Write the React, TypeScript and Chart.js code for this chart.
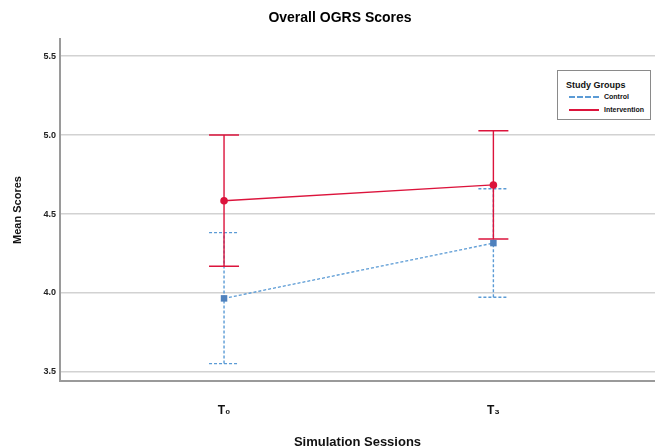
import React, { useEffect, useRef } from "react";
import { Chart, registerables } from "chart.js";

Chart.register(...registerables);

const sessions = ["T\u2080", "T\u2083"];
const sessionPositions = [0, 1];
const yTicks = [3.5, 4.0, 4.5, 5.0, 5.5];

const controlMeans = [3.966, 4.316];
const controlLower = [3.553, 3.973];
const controlUpper = [4.382, 4.66];

const interventionMeans = [4.584, 4.684];
const interventionLower = [4.169, 4.342];
const interventionUpper = [5.0, 5.027];

const RED = "#dc143c";
const BLUE_LINE = "#5b9bd5";
const BLUE_MARK = "#4f81bd";

const errorBarPlugin = {
  id: "errorBars",
  beforeDatasetsDraw(chart: any) {
    const { ctx, scales } = chart;
    const xs = scales.x;
    const ys = scales.y;
    chart.data.datasets.forEach((ds: any) => {
      const lows: number[] = ds.errLow;
      const highs: number[] = ds.errHigh;
      if (!lows) return;
      ctx.save();
      ctx.strokeStyle = ds.borderColor;
      ctx.lineWidth = 1.4;
      ctx.setLineDash(ds.borderDash || []);
      ds.data.forEach((p: any, i: number) => {
        const x = xs.getPixelForValue(p.x);
        const yl = ys.getPixelForValue(lows[i]);
        const yh = ys.getPixelForValue(highs[i]);
        ctx.beginPath();
        ctx.moveTo(x, yl);
        ctx.lineTo(x, yh);
        ctx.moveTo(x - 15, yl);
        ctx.lineTo(x + 15, yl);
        ctx.moveTo(x - 15, yh);
        ctx.lineTo(x + 15, yh);
        ctx.stroke();
      });
      ctx.restore();
    });
  },
};

const titlePlugin = {
  id: "customTitle",
  afterDraw(chart: any) {
    const ctx = chart.ctx;
    ctx.save();
    ctx.font = "bold 14px 'Liberation Sans', Arial, sans-serif";
    ctx.fillStyle = "#000";
    ctx.textAlign = "center";
    ctx.textBaseline = "middle";
    ctx.fillText("Overall OGRS Scores", 340, 18);
    ctx.restore();
  },
};

export default function App() {
  const canvasRef = useRef<HTMLCanvasElement | null>(null);

  useEffect(() => {
    if (!canvasRef.current) return;
    const chart = new Chart(canvasRef.current, {
      type: "line",
      data: {
        datasets: [
          {
            label: "Control",
            data: sessionPositions.map((x, i) => ({ x, y: controlMeans[i] })),
            borderColor: BLUE_LINE,
            backgroundColor: BLUE_MARK,
            pointBackgroundColor: BLUE_MARK,
            pointBorderColor: BLUE_MARK,
            borderWidth: 1.3,
            borderDash: [3, 2],
            pointStyle: "rect",
            pointRadius: 4.6,
            pointBorderWidth: 0,
            errLow: controlLower,
            errHigh: controlUpper,
          } as any,
          {
            label: "Intervention",
            data: sessionPositions.map((x, i) => ({ x, y: interventionMeans[i] })),
            borderColor: RED,
            backgroundColor: RED,
            pointBackgroundColor: RED,
            pointBorderColor: RED,
            borderWidth: 1.3,
            pointStyle: "circle",
            pointRadius: 3.8,
            pointBorderWidth: 0,
            errLow: interventionLower,
            errHigh: interventionUpper,
          } as any,
        ],
      },
      options: {
        responsive: false,
        animation: false,
        layout: { autoPadding: false, padding: { top: 39, left: 0, right: 0, bottom: 0 } },
        plugins: {
          legend: { display: false },
          title: { display: false },
          tooltip: { enabled: false },
        },
        scales: {
          x: {
            type: "linear",
            min: -0.609,
            max: 1.6,
            afterBuildTicks: (scale: any) => {
              scale.ticks = sessionPositions.map((v) => ({ value: v }));
            },
            afterFit: (scale: any) => {
              scale.height = 65;
            },
            grid: { display: false, drawTicks: false },
            border: { color: "#9a9a9a", width: 2 },
            ticks: {
              padding: 22,
              color: "#111",
              font: { family: "'Liberation Sans', Arial, sans-serif", size: 12, weight: "bold" },
              callback: (v: any) => {
                const idx = sessionPositions.indexOf(Number(v));
                return idx >= 0 ? sessions[idx] : "";
              },
            },
            title: {
              display: true,
              text: "Simulation Sessions",
              color: "#111",
              padding: { top: 0, bottom: -4 },
              font: { family: "'Liberation Sans', Arial, sans-serif", size: 13, weight: "bold" },
            },
          },
          y: {
            min: 3.443,
            max: 5.608,
            afterBuildTicks: (scale: any) => {
              scale.ticks = yTicks.map((v) => ({ value: v }));
            },
            afterFit: (scale: any) => {
              scale.width = 60;
            },
            grid: { color: "#d2d2d2", lineWidth: 1.5, drawTicks: false },
            border: { color: "#9a9a9a", width: 2 },
            ticks: {
              padding: 4,
              color: "#222",
              font: { family: "'Liberation Sans', Arial, sans-serif", size: 9, weight: "bold" },
              callback: (v: any) => Number(v).toFixed(1),
            },
            title: {
              display: true,
              text: "Mean Scores",
              color: "#111",
              padding: { top: 11, bottom: 0 },
              font: { family: "'Liberation Sans', Arial, sans-serif", size: 11, weight: "bold" },
            },
          },
        },
      } as any,
      plugins: [errorBarPlugin, titlePlugin],
    });
    return () => chart.destroy();
  }, []);

  const font = "'Liberation Sans', Arial, sans-serif";

  return (
    <div style={{ position: "absolute", left: 0, top: 0, width: 655, height: 446, background: "#fff" }}>
      <canvas ref={canvasRef} width={655} height={446} style={{ display: "block" }} />
      <div
        style={{
          position: "absolute",
          left: 557,
          top: 70,
          width: 94,
          height: 50,
          border: "1px solid #8a8a8a",
          background: "#fff",
          boxSizing: "border-box",
          fontFamily: font,
          color: "#111",
        }}
      >
        <div style={{ position: "absolute", left: 8, top: 9, fontSize: 9, fontWeight: "bold", lineHeight: "10px", whiteSpace: "nowrap" }}>
          Study Groups
        </div>
        <div style={{ position: "absolute", left: 11, top: 25, width: 30, borderTop: `2px dashed ${BLUE_LINE}` }} />
        <div style={{ position: "absolute", left: 46, top: 21, fontSize: 7, fontWeight: "bold", lineHeight: "9px", whiteSpace: "nowrap" }}>
          Control
        </div>
        <div style={{ position: "absolute", left: 11, top: 38, width: 30, borderTop: `2px solid ${RED}` }} />
        <div style={{ position: "absolute", left: 46, top: 34, fontSize: 7, fontWeight: "bold", lineHeight: "9px", whiteSpace: "nowrap" }}>
          Intervention
        </div>
      </div>
    </div>
  );
}
